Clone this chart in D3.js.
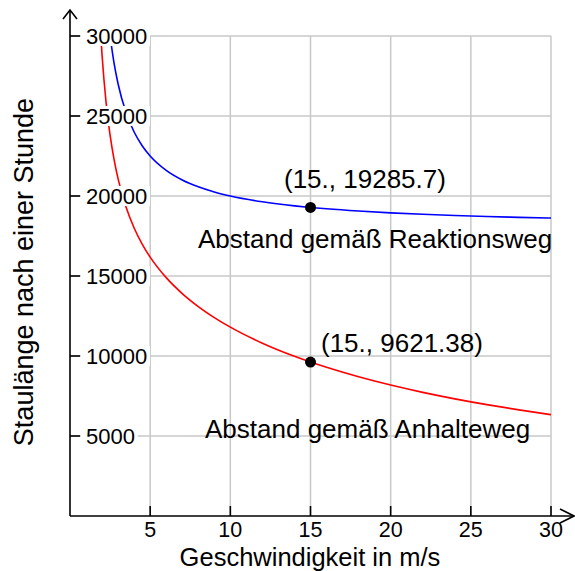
<!DOCTYPE html>
<html>
<head>
<meta charset="utf-8">
<script src="https://cdn.jsdelivr.net/npm/d3@7"></script>
<style>
  body { margin: 0; background: #fff; }
  text { font-family: "Liberation Sans", Arial, sans-serif; fill: #000; }
</style>
</head>
<body>
<script>
// speeds (m/s) and read-off curve values
var speedsBlue = [2.5, 2.75, 3, 3.5, 4, 4.5, 5, 6, 7, 8, 9, 10, 12, 14, 15, 16, 18, 20, 22, 24, 26, 28, 30];
var reaktion   = [30000, 28286, 27000, 25200, 24000, 23143, 22500, 21600, 21000, 20571, 20250, 20000,
                  19636, 19385, 19286, 19200, 19059, 18947, 18857, 18783, 18720, 18667, 18621];
var speedsRed  = [1.92, 2, 2.25, 2.5, 2.75, 3, 3.5, 4, 4.5, 5, 6, 7, 8, 9, 10, 12, 14, 15, 16, 18, 20, 22, 24, 26, 28, 30];
var anhalte    = [30042, 28800, 25855, 23802, 22270, 21073, 19292, 18000, 16997, 16180, 14897, 13903, 13091,
                  12402, 11803, 10800, 9980, 9621, 9290, 8698, 8182, 7727, 7322, 6959, 6632, 6334];
var xTicks = [5, 10, 15, 20, 25, 30];
var yTicks = [5000, 10000, 15000, 20000, 25000, 30000];
var marked = [{v: 15, s: 19285.7, label: "(15., 19285.7)"}, {v: 15, s: 9621.38, label: "(15., 9621.38)"}];

var width = 575, height = 571;
var svg = d3.select("body").append("svg")
    .attr("width", width)
    .attr("height", height);

var x = d3.scaleLinear().domain([0, 30]).range([70, 551]);
var y = d3.scaleLinear().domain([0, 30000]).range([516, 36]);

// grid
var grid = svg.append("g").attr("stroke", "#c8c8c8").attr("stroke-width", 1.5);
grid.selectAll("line.v").data(xTicks).enter().append("line")
    .attr("x1", d => x(d)).attr("x2", d => x(d))
    .attr("y1", y(30000)).attr("y2", y(0));
grid.selectAll("line.h").data(yTicks).enter().append("line")
    .attr("x1", x(0)).attr("x2", x(30))
    .attr("y1", d => y(d)).attr("y2", d => y(d));

// curves
svg.append("clipPath").attr("id", "plot").append("rect")
    .attr("x", x(0)).attr("y", y(30000)).attr("width", x(30) - x(0)).attr("height", y(0) - y(30000));

var lineGen = d3.line().curve(d3.curveMonotoneX);
svg.append("path")
    .attr("clip-path", "url(#plot)")
    .attr("d", lineGen(speedsBlue.map((v, i) => [x(v), y(reaktion[i])])))
    .attr("fill", "none").attr("stroke", "#0000ff").attr("stroke-width", 1.6);
svg.append("path")
    .attr("clip-path", "url(#plot)")
    .attr("d", lineGen(speedsRed.map((v, i) => [x(v), y(anhalte[i])])))
    .attr("fill", "none").attr("stroke", "#ff0000").attr("stroke-width", 1.6);

// axes
var ax = svg.append("g").attr("stroke", "#000").attr("stroke-width", 1.6).attr("fill", "none");
ax.append("line").attr("x1", x(0)).attr("x2", 574).attr("y1", y(0)).attr("y2", y(0));
ax.append("line").attr("x1", x(0)).attr("x2", x(0)).attr("y1", y(0)).attr("y2", 10);
ax.append("path").attr("d", "M" + (x(0) - 7) + ",19L" + x(0) + ",10L" + (x(0) + 7) + ",19");
ax.append("path").attr("d", "M560," + (y(0) - 7) + "L574," + y(0) + "L560," + (y(0) + 7));

// x ticks
ax.selectAll("line.xt").data(xTicks).enter().append("line")
    .attr("x1", d => x(d)).attr("x2", d => x(d))
    .attr("y1", y(0)).attr("y2", y(0) - 10);
svg.selectAll("text.xt").data(xTicks).enter().append("text")
    .attr("x", d => x(d)).attr("y", 537)
    .attr("text-anchor", "middle").attr("font-size", 21.5)
    .text(d => d);

// y ticks with white label backgrounds
ax.selectAll("line.yt").data(yTicks).enter().append("line")
    .attr("x1", x(0)).attr("x2", x(0) + 10)
    .attr("y1", d => y(d)).attr("y2", d => y(d));
var yl = svg.selectAll("g.yl").data(yTicks).enter().append("g")
    .attr("transform", d => "translate(86," + y(d) + ")");
yl.append("rect")
    .attr("x", -5).attr("y", -10)
    .attr("width", d => String(d).length * 12.2 + 8).attr("height", 20)
    .attr("fill", "#fff");
yl.append("text")
    .attr("dy", "0.36em").attr("font-size", 22)
    .text(d => d);

// marked points
svg.selectAll("circle.pt").data(marked).enter().append("circle")
    .attr("cx", d => x(d.v)).attr("cy", d => y(d.s)).attr("r", 5.5)
    .attr("fill", "#000");
svg.append("text").attr("x", 284).attr("y", 188).attr("font-size", 26).text(marked[0].label);
svg.append("text").attr("x", 321).attr("y", 352).attr("font-size", 26).text(marked[1].label);

// curve labels
svg.append("text").attr("x", 198).attr("y", 248).attr("font-size", 26).text("Abstand gemäß Reaktionsweg");
svg.append("text").attr("x", 205).attr("y", 438).attr("font-size", 26).text("Abstand gemäß Anhalteweg");

// axis titles
svg.append("text")
    .attr("x", 310).attr("y", 565.5)
    .attr("text-anchor", "middle").attr("font-size", 25.5)
    .text("Geschwindigkeit in m/s");
svg.append("text")
    .attr("transform", "translate(33,272) rotate(-90)")
    .attr("text-anchor", "middle").attr("font-size", 27)
    .text("Staulänge nach einer Stunde");
</script>
</body>
</html>
